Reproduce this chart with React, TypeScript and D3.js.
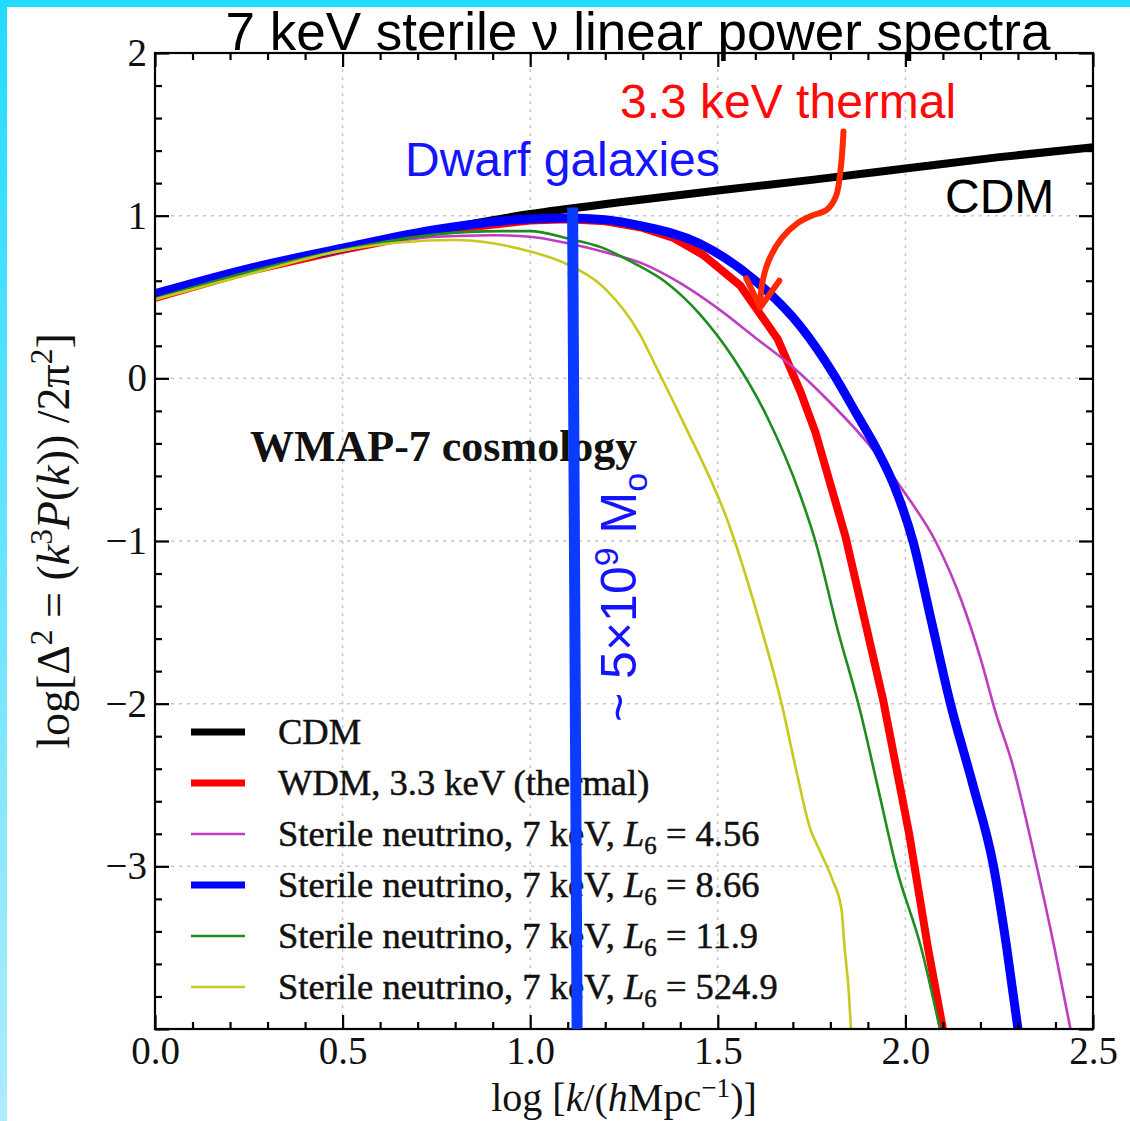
import React, { useEffect, useRef } from 'react';
import * as d3 from 'd3';

const W = 1130;
const H = 1121;

const xDomain = [0, 2.5];
const yDomain = [-4, 2];
const xMajorTicks = [0, 0.5, 1, 1.5, 2, 2.5];
const yMajorTicks = [-4, -3, -2, -1, 0, 1, 2];
const xGrid = [0.5, 1, 1.5, 2];
const yGrid = [-3, -2, -1, 0, 1];

// [log k, log Delta^2]
const cdm = [[0, 0.5], [0.25, 0.665], [0.5, 0.795], [0.75, 0.91], [1.0, 1.01], [1.25, 1.085], [1.5, 1.155], [1.75, 1.22], [2.0, 1.29], [2.25, 1.36], [2.5, 1.42]];
const wdm33 = [[0, 0.495], [0.25, 0.66], [0.5, 0.79], [0.75, 0.905], [1.0, 0.97], [1.1, 0.978], [1.2, 0.965], [1.3, 0.925], [1.38, 0.865], [1.46, 0.76], [1.56, 0.57], [1.66, 0.24], [1.72, -0.08], [1.76, -0.33], [1.84, -0.97], [1.94, -1.97], [2.01, -2.8], [2.06, -3.5], [2.1, -4.0]];
const sterileL456 = [[0, 0.49], [0.25, 0.65], [0.5, 0.785], [0.75, 0.87], [0.9, 0.88], [1.0, 0.87], [1.1, 0.83], [1.2, 0.775], [1.3, 0.705], [1.4, 0.585], [1.5, 0.43], [1.6, 0.25], [1.7, 0.07], [1.8, -0.15], [1.9, -0.4], [2.0, -0.71], [2.08, -1.0], [2.15, -1.37], [2.2, -1.72], [2.24, -2.05], [2.285, -2.37], [2.35, -3.0], [2.398, -3.51], [2.44, -4.0]];
const sterileL866 = [[0, 0.52], [0.25, 0.675], [0.5, 0.8], [0.75, 0.915], [1.0, 0.98], [1.1, 0.985], [1.2, 0.975], [1.3, 0.935], [1.45, 0.83], [1.6, 0.6], [1.72, 0.32], [1.81, 0.02], [1.87, -0.22], [1.92, -0.42], [1.97, -0.66], [2.02, -1.0], [2.07, -1.5], [2.12, -2.0], [2.18, -2.5], [2.235, -3.0], [2.27, -3.5], [2.3, -4.0]];
const sterileL119 = [[0, 0.49], [0.25, 0.655], [0.5, 0.79], [0.75, 0.885], [0.92, 0.905], [1.0, 0.905], [1.1, 0.86], [1.19, 0.805], [1.275, 0.71], [1.365, 0.585], [1.45, 0.4], [1.54, 0.13], [1.63, -0.23], [1.72, -0.72], [1.76, -1.0], [1.82, -1.55], [1.88, -2.05], [1.93, -2.55], [1.975, -3.0], [2.043, -3.51], [2.092, -4.0]];
const sterileL5249 = [[0, 0.485], [0.25, 0.64], [0.5, 0.785], [0.65, 0.835], [0.8, 0.85], [0.9, 0.83], [1.0, 0.78], [1.1, 0.7], [1.2, 0.55], [1.29, 0.28], [1.34, 0.05], [1.41, -0.28], [1.53, -0.9], [1.62, -1.57], [1.67, -2.0], [1.71, -2.42], [1.745, -2.76], [1.775, -2.92], [1.805, -3.08], [1.83, -3.27], [1.838, -3.5], [1.849, -3.77], [1.855, -4.0]];

const legendNames = ['CDM', 'WDM, 3.3 keV (thermal)', 'Sterile neutrino, 7 keV, ', 'Sterile neutrino, 7 keV, ', 'Sterile neutrino, 7 keV, ', 'Sterile neutrino, 7 keV, '];
const legendL6 = ['', '', '4.56', '8.66', '11.9', '524.9'];

// annotations, in data units
const dwarfBar = [[1.113, 1.05], [1.125, -4.0]];
const arrowCurve = [[1.835, 1.518], [1.828, 1.3], [1.815, 1.12], [1.79, 1.035], [1.75, 1.0], [1.71, 0.95], [1.67, 0.86], [1.635, 0.72], [1.618, 0.58], [1.613, 0.44]];
const arrowHead = [[1.576, 0.615], [1.613, 0.436], [1.664, 0.6]];

const serif = "'Liberation Serif', 'Times New Roman', serif";
const sans = "'Liberation Sans', Arial, sans-serif";

type Part = { t: string; s?: 'sup' | 'sub'; i?: boolean };

function addRich(text: any, parts: Part[], size: number) {
	let shift = 0;
	parts.forEach(p => {
		const target = p.s === 'sup' ? -0.36 * size : p.s === 'sub' ? 0.22 * size : 0;
		const ts = text.append('tspan').attr('dy', target - shift).text(p.t);
		if (p.s) ts.attr('font-size', size * 0.68);
		if (p.i) ts.attr('font-style', 'italic');
		shift = target;
	});
}

export default function App() {
	const ref = useRef<SVGSVGElement>(null);

	useEffect(() => {
		const svg = d3.select(ref.current);
		svg.selectAll('*').remove();

		const margin = { top: 53, right: 37, bottom: 92, left: 155 };
		const x = d3.scaleLinear().domain(xDomain).range([margin.left, W - margin.right]);
		const y = d3.scaleLinear().domain(yDomain).range([H - margin.bottom, margin.top]);

		const series = [
			{ data: cdm, color: '#000000', width: 8, curve: d3.curveMonotoneX },
			{ data: wdm33, color: '#ff0000', width: 8, curve: d3.curveLinear },
			{ data: sterileL456, color: '#c03cc0', width: 2.6, curve: d3.curveMonotoneX },
			{ data: sterileL866, color: '#0000ff', width: 9, curve: d3.curveMonotoneX },
			{ data: sterileL119, color: '#1f8c1f', width: 2.6, curve: d3.curveMonotoneX },
			{ data: sterileL5249, color: '#c8c81e', width: 2.6, curve: d3.curveMonotoneX },
		];

		const defs = svg.append('defs');
		const grad = defs.append('linearGradient').attr('id', 'edge').attr('x1', 0).attr('y1', 0).attr('x2', 0).attr('y2', 1);
		grad.append('stop').attr('offset', '0%').attr('stop-color', '#22dcff');
		grad.append('stop').attr('offset', '100%').attr('stop-color', '#b0ecff');
		defs.append('clipPath').attr('id', 'plotClip').append('rect')
			.attr('x', x(0)).attr('y', y(2))
			.attr('width', x(2.5) - x(0)).attr('height', y(-4) - y(2));

		svg.append('rect').attr('width', W).attr('height', H).attr('fill', '#fff');
		svg.append('rect').attr('width', 7).attr('height', H).attr('fill', 'url(#edge)');
		svg.append('rect').attr('width', W).attr('height', 7).attr('fill', '#22dcff');

		// grid
		const grid = svg.append('g').attr('stroke', '#c8c8c8').attr('stroke-width', 1.5).attr('stroke-dasharray', '3,5');
		grid.selectAll('.gx').data(xGrid).enter().append('line')
			.attr('x1', d => x(d)).attr('x2', d => x(d)).attr('y1', y(2)).attr('y2', y(-4));
		grid.selectAll('.gy').data(yGrid).enter().append('line')
			.attr('y1', d => y(d)).attr('y2', d => y(d)).attr('x1', x(0)).attr('x2', x(2.5));

		// curves
		const curves = svg.append('g').attr('clip-path', 'url(#plotClip)');
		series.forEach(s => {
			const line = d3.line<number[]>().x(d => x(d[0])).y(d => y(d[1])).curve(s.curve);
			curves.append('path')
				.attr('d', line(s.data))
				.attr('fill', 'none')
				.attr('stroke', s.color)
				.attr('stroke-width', s.width)
				.attr('stroke-linejoin', 'round');
		});

		// axes, ticks pointing inward
		const xMinor = d3.range(0, 2.501, 0.1).filter(v => Math.abs(v * 2 - Math.round(v * 2)) > 1e-6);
		const yMinor = d3.range(-4, 2.001, 0.2).filter(v => Math.abs(v - Math.round(v)) > 1e-6);
		const styleAxis = (g: any) => {
			g.select('.domain').remove();
			g.selectAll('line').attr('stroke', '#000').attr('stroke-width', 2.2);
			g.selectAll('text').attr('font-family', serif).attr('font-size', 39).attr('fill', '#111');
		};
		const fmtY = d3.format('d');
		svg.append('g').attr('transform', `translate(0,${y(-4)})`)
			.call(d3.axisBottom(x).tickValues(xMajorTicks).tickSize(-14).tickPadding(7).tickFormat(d3.format('.1f') as any)).call(styleAxis);
		svg.append('g').attr('transform', `translate(0,${y(-4)})`)
			.call(d3.axisBottom(x).tickValues(xMinor).tickSize(-7).tickFormat(() => '')).call(styleAxis);
		svg.append('g').attr('transform', `translate(0,${y(2)})`)
			.call(d3.axisTop(x).tickValues(xMajorTicks).tickSize(-14).tickFormat(() => '')).call(styleAxis);
		svg.append('g').attr('transform', `translate(0,${y(2)})`)
			.call(d3.axisTop(x).tickValues(xMinor).tickSize(-7).tickFormat(() => '')).call(styleAxis);
		svg.append('g').attr('transform', `translate(${x(0)},0)`)
			.call(d3.axisLeft(y).tickValues(yMajorTicks).tickSize(-14).tickPadding(8).tickFormat((d: any) => (d === -4 ? '' : fmtY(d)))).call(styleAxis);
		svg.append('g').attr('transform', `translate(${x(0)},0)`)
			.call(d3.axisLeft(y).tickValues(yMinor).tickSize(-7).tickFormat(() => '')).call(styleAxis);
		svg.append('g').attr('transform', `translate(${x(2.5)},0)`)
			.call(d3.axisRight(y).tickValues(yMajorTicks).tickSize(-14).tickFormat(() => '')).call(styleAxis);
		svg.append('g').attr('transform', `translate(${x(2.5)},0)`)
			.call(d3.axisRight(y).tickValues(yMinor).tickSize(-7).tickFormat(() => '')).call(styleAxis);
		svg.append('rect')
			.attr('x', x(0)).attr('y', y(2))
			.attr('width', x(2.5) - x(0)).attr('height', y(-4) - y(2))
			.attr('fill', 'none').attr('stroke', '#000').attr('stroke-width', 2.2);

		// axis labels
		const xl = svg.append('text').attr('x', (x(0) + x(2.5)) / 2).attr('y', 1111)
			.attr('text-anchor', 'middle').attr('font-family', serif).attr('font-size', 40).attr('fill', '#111');
		addRich(xl, [{ t: 'log [' }, { t: 'k', i: true }, { t: '/(' }, { t: 'h', i: true }, { t: 'Mpc' }, { t: '−1', s: 'sup' }, { t: ')]' }], 40);
		const yl = svg.append('text').attr('transform', `translate(69,${(y(2) + y(-4)) / 2}) rotate(-90)`)
			.attr('text-anchor', 'middle').attr('font-family', serif).attr('font-size', 46).attr('fill', '#111');
		addRich(yl, [{ t: 'log[Δ' }, { t: '2', s: 'sup' }, { t: ' = (' }, { t: 'k', i: true }, { t: '3', s: 'sup' }, { t: 'P', i: true }, { t: '(' }, { t: 'k', i: true }, { t: ')) /2π' }, { t: '2', s: 'sup' }, { t: ']' }], 46);

		// legend
		const legend = svg.append('g');
		series.forEach((s, i) => {
			const ry = 732 + i * 51;
			legend.append('line').attr('x1', 191).attr('x2', 245).attr('y1', ry).attr('y2', ry)
				.attr('stroke', s.color).attr('stroke-width', s.width > 5 ? 7 : 2.6);
			const t = legend.append('text').attr('x', 278).attr('y', ry + 12)
				.attr('font-family', serif).attr('font-size', 36.5).attr('fill', '#111')
				.attr('stroke', '#111').attr('stroke-width', 0.5);
			if (legendL6[i]) {
				addRich(t, [{ t: legendNames[i] }, { t: 'L', i: true }, { t: '6', s: 'sub' }, { t: ' = ' + legendL6[i] }], 36.5);
			} else {
				t.text(legendNames[i]);
			}
		});

		svg.append('text').attr('x', 250).attr('y', 461)
			.attr('font-family', serif).attr('font-size', 44).attr('font-weight', 'bold').attr('fill', '#111')
			.text('WMAP-7 cosmology');

		// title and annotations
		svg.append('text').attr('x', 638).attr('y', 50).attr('text-anchor', 'middle')
			.attr('font-family', sans).attr('font-size', 53).attr('fill', '#000')
			.text('7 keV sterile ν linear power spectra');
		svg.append('text').attr('x', 620).attr('y', 118)
			.attr('font-family', sans).attr('font-size', 48).attr('fill', '#ff0a0a').text('3.3 keV thermal');
		svg.append('text').attr('x', 405).attr('y', 176)
			.attr('font-family', sans).attr('font-size', 48).attr('fill', '#1414ff').text('Dwarf galaxies');
		svg.append('text').attr('x', 945).attr('y', 213)
			.attr('font-family', sans).attr('font-size', 48).attr('fill', '#000').text('CDM');

		const pt = d3.line<number[]>().x(d => x(d[0])).y(d => y(d[1]));
		svg.append('path').attr('d', pt.curve(d3.curveCatmullRom)(arrowCurve))
			.attr('fill', 'none').attr('stroke', '#ff2a00').attr('stroke-width', 6).attr('stroke-linecap', 'round');
		svg.append('path').attr('d', pt.curve(d3.curveLinear)(arrowHead))
			.attr('fill', 'none').attr('stroke', '#ff2a00').attr('stroke-width', 6)
			.attr('stroke-linecap', 'round').attr('stroke-linejoin', 'round');

		svg.append('path').attr('d', pt.curve(d3.curveLinear)(dwarfBar))
			.attr('stroke', '#0a3bff').attr('stroke-width', 11).attr('fill', 'none');

		const mass = svg.append('text').attr('transform', 'translate(636,722) rotate(-90)')
			.attr('font-family', sans).attr('font-size', 50).attr('fill', '#1414ff');
		addRich(mass, [{ t: '~ 5×10' }, { t: '9', s: 'sup' }, { t: ' M' }, { t: 'o', s: 'sub' }], 50);
	}, []);

	return (
		<div style={{ position: 'absolute', left: 0, top: 0 }}>
			<svg ref={ref} width={W} height={H} />
		</div>
	);
}
